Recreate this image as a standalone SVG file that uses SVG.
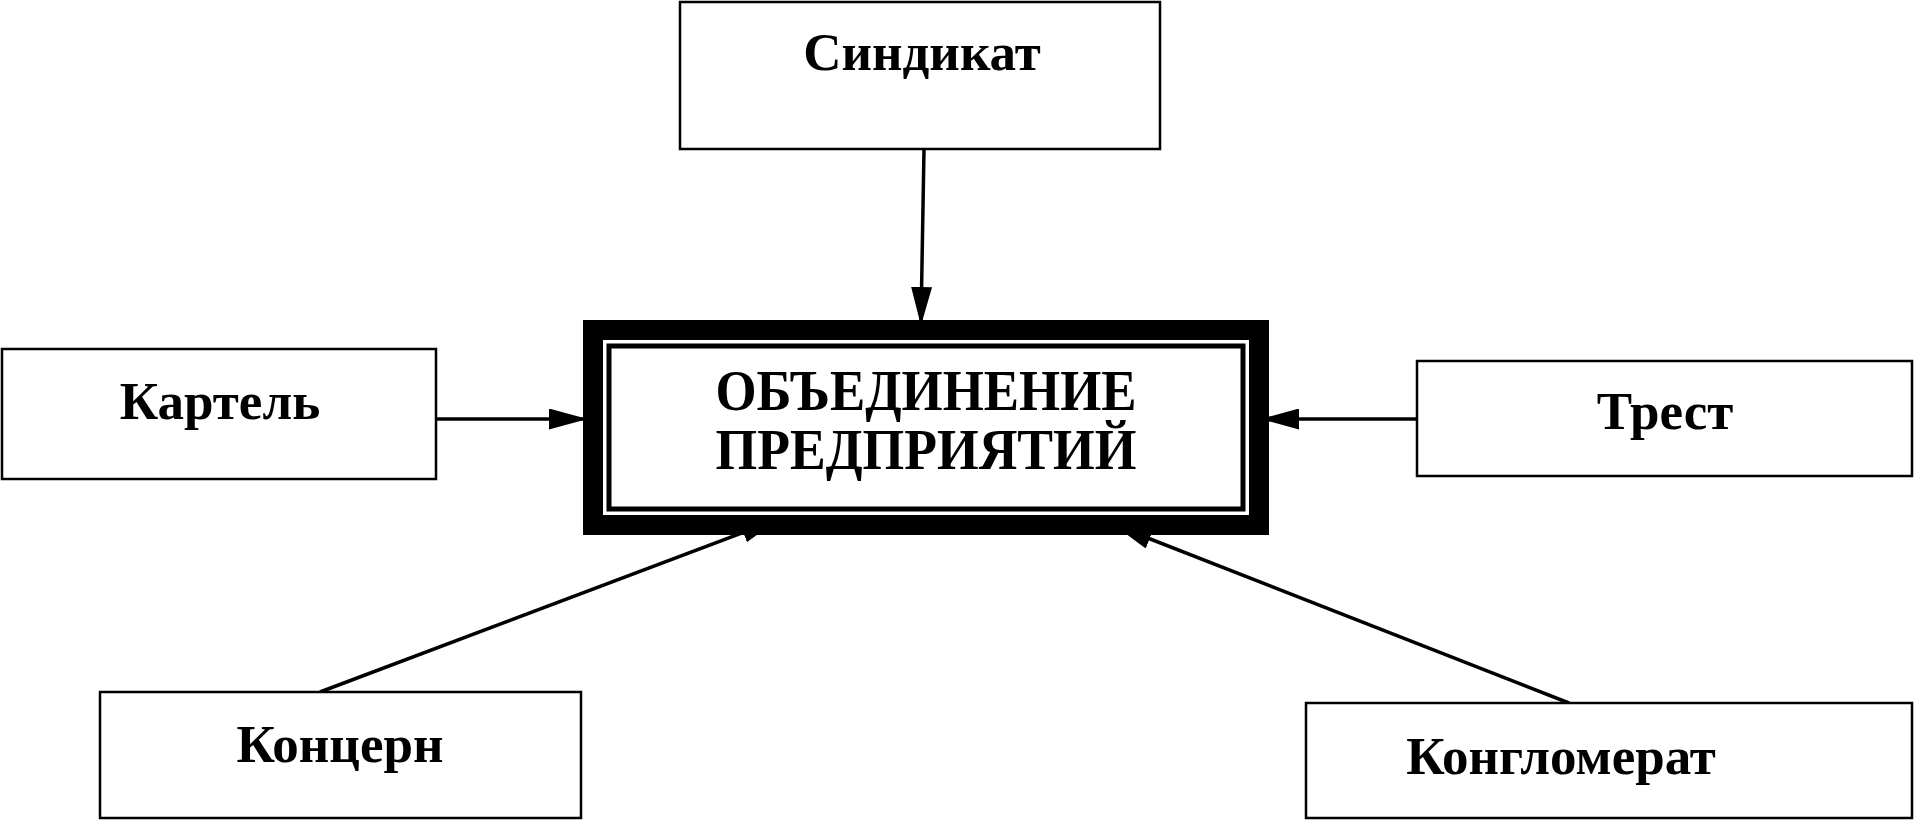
<svg xmlns="http://www.w3.org/2000/svg" width="1915" height="822" viewBox="0 0 1915 822">
<style>
.b{fill:#fff;stroke:#000;stroke-width:2.5}
.t{font-family:"Liberation Serif",serif;font-weight:bold;font-size:53px;text-anchor:middle;fill:#000}
.m{font-family:"Liberation Serif",serif;font-weight:bold;font-size:58px;text-anchor:middle;fill:#000}
.c{stroke:#000;stroke-width:3.5;fill:none;marker-end:url(#a)}
</style>
<defs><marker id="a" markerWidth="11" markerHeight="6" refX="10" refY="3" orient="auto" markerUnits="strokeWidth"><path d="M0,0L11,3L0,6z" fill="#000"/></marker></defs>
<rect width="1915" height="822" fill="#fff"/>
<g id="connectors">
<line class="c" x1="924" y1="149" x2="921" y2="322"/>
<line class="c" x1="437" y1="419" x2="584" y2="419"/>
<line class="c" x1="1417" y1="419" x2="1264" y2="419"/>
<line class="c" x1="320" y1="692" x2="776" y2="520"/>
<line class="c" x1="1569" y1="703" x2="1117" y2="526"/>
</g>
<g id="main">
<rect x="593" y="330" width="666" height="195" fill="#fff" stroke="#000" stroke-width="20"/>
<rect x="609" y="346" width="634" height="163" fill="none" stroke="#000" stroke-width="5"/>
<text class="m" x="926" y="410" textLength="421" lengthAdjust="spacingAndGlyphs">ОБЪЕДИНЕНИЕ</text>
<text class="m" x="926" y="469" textLength="421" lengthAdjust="spacingAndGlyphs">ПРЕДПРИЯТИЙ</text>
</g>
<g id="sindikat"><rect class="b" x="680" y="2" width="480" height="147"/><text class="t" x="922" y="70">Синдикат</text></g>
<g id="kartel"><rect class="b" x="2" y="349" width="434" height="130"/><text class="t" x="220" y="419">Картель</text></g>
<g id="trest"><rect class="b" x="1417" y="361" width="495" height="115"/><text class="t" x="1665" y="429">Трест</text></g>
<g id="koncern"><rect class="b" x="100" y="692" width="481" height="126"/><text class="t" x="340" y="762">Концерн</text></g>
<g id="konglomerat"><rect class="b" x="1306" y="703" width="606" height="115"/><text class="t" x="1561" y="774">Конгломерат</text></g>
</svg>
